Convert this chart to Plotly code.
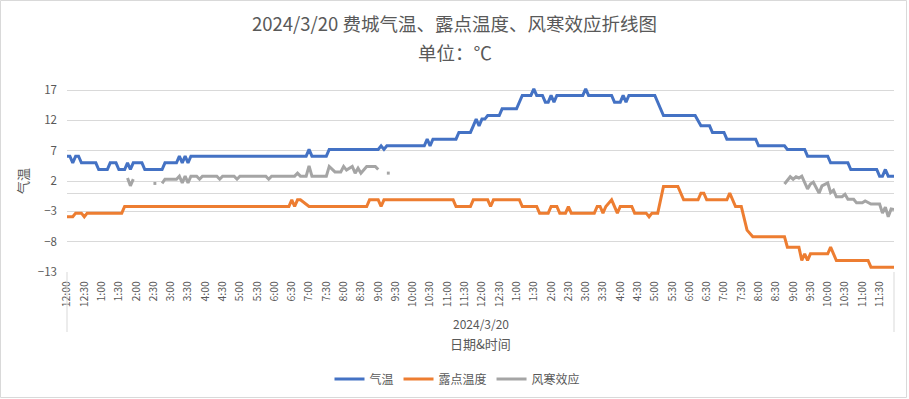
import plotly.graph_objects as go

# ---------------- data (time of day 24h "H:MM", value in °C) ----------------
temp_times = ["0:00","0:05","0:10","0:15","0:20","0:25","0:50","0:55","1:10","1:15","1:25","1:30",
              "1:40","1:45","1:50","1:55","2:10","2:15","2:45","2:50","3:10","3:15","3:20","3:25",
              "3:30","3:35","6:55","7:00","7:05","7:30","7:35","9:00","9:05","9:10","9:15","10:20",
              "10:25","10:30","10:35","11:15","11:20","11:40","11:45","11:50","11:55","12:00","12:05",
              "12:10","12:30","12:35","13:00","13:10","13:25","13:30","13:35","13:45","13:50","13:55",
              "14:00","14:05","14:10","14:55","15:00","15:05","15:45","15:50","16:00","16:05","16:10",
              "16:15","17:00","17:15","18:10","18:20","18:35","18:40","19:00","19:05","19:55","20:00",
              "20:45","20:50","21:20","21:25","22:00","22:05","22:35","22:40","23:25","23:30","23:35",
              "23:40","23:45","23:55"]
temp_vals = [6.1,6.1,5.0,6.1,6.1,5.0,5.0,3.9,3.9,5.0,5.0,3.9,
             3.9,5.0,3.9,5.0,5.0,3.9,3.9,5.0,5.0,6.1,5.0,6.1,
             5.0,6.1,6.1,7.2,6.1,6.1,7.2,7.2,7.8,7.2,7.8,7.8,
             8.9,7.8,8.9,8.9,10.0,10.0,11.1,12.2,11.1,12.2,12.2,
             12.8,12.8,13.9,13.9,16.1,16.1,17.2,16.1,16.1,15.0,15.0,
             16.1,15.0,16.1,16.1,17.2,16.1,16.1,15.0,15.0,16.1,15.0,
             16.1,16.1,12.8,12.8,11.1,11.1,10.0,10.0,8.9,8.9,7.8,
             7.8,7.2,7.2,6.1,6.1,5.0,5.0,3.9,3.9,2.8,2.8,
             3.9,2.8,2.8]

dew_times = ["0:00","0:10","0:15","0:25","0:30","0:35","1:35","1:40","6:25","6:30","6:35","6:40",
             "6:45","7:00","8:40","8:45","9:00","9:05","9:10","11:10","11:15","11:40","11:45","12:10",
             "12:15","12:20","13:05","13:10","13:35","13:40","13:55","14:00","14:10","14:15","14:25",
             "14:30","14:35","15:15","15:20","15:25","15:30","15:35","15:45","15:55","16:00","16:20",
             "16:25","16:45","16:50","16:55","17:05","17:15","17:40","17:50","18:15","18:20","18:25",
             "18:30","19:05","19:10","19:20","19:30","19:40","19:45","19:50","20:45","20:50","21:10",
             "21:15","21:20","21:25","21:30","22:00","22:05","22:15","23:10","23:15","23:55"]
dew_vals = [-3.9,-3.9,-3.3,-3.3,-3.9,-3.3,-3.3,-2.2,-2.2,-1.1,-2.2,-1.1,
            -1.1,-2.2,-2.2,-1.1,-1.1,-2.2,-1.1,-1.1,-2.2,-2.2,-1.1,-1.1,
            -2.2,-1.1,-1.1,-2.2,-2.2,-3.3,-3.3,-2.2,-2.2,-3.3,-3.3,
            -2.2,-3.3,-3.3,-2.2,-2.2,-3.3,-2.2,-1.1,-3.3,-2.2,-2.2,
            -3.3,-3.3,-3.9,-3.3,-3.3,1.1,1.1,-1.1,-1.1,0.0,0.0,
            -1.1,-1.1,0.0,-2.2,-2.2,-6.1,-6.7,-7.2,-7.2,-8.9,-8.9,
            -11.1,-10.0,-11.1,-10.0,-10.0,-8.9,-11.1,-11.1,-12.2,-12.2]

chill_times = ["1:45","1:50","1:55",None,"2:30","2:35",None,"2:45","2:50","3:05","3:10","3:15","3:20",
               "3:25","3:30","3:35","3:45","3:50","3:55","4:20","4:25","4:30","4:50","4:55","5:00",
               "5:45","5:50","5:55","6:35","6:40","6:45","6:55","7:00","7:05","7:30","7:35","7:45",
               "7:55","8:00","8:05","8:15","8:20","8:25","8:30","8:40","8:55","9:00",None,"9:15","9:20",
               None,"20:45","20:55","21:00","21:05","21:10","21:15","21:25","21:30","21:35","21:45",
               "21:50","21:55","22:00","22:05","22:10","22:15","22:25","22:30","22:35","22:45","22:50",
               "23:00","23:05","23:15","23:30","23:35","23:40","23:45","23:50","23:55"]
chill_vals = [2.5,1.2,2.3,None,1.6,1.6,None,1.6,2.3,2.3,2.3,2.8,1.7,
              2.8,1.7,2.8,2.8,2.3,2.8,2.8,2.3,2.8,2.8,2.3,2.8,
              2.8,2.3,2.8,2.8,3.3,2.8,2.8,4.5,2.8,2.8,4.4,3.5,
              3.5,4.4,3.8,4.4,3.3,4.1,3.3,4.4,4.4,3.9,None,3.3,3.3,
              None,1.5,2.7,2.3,2.7,2.5,2.8,0.7,1.5,1.8,0.0,
              1.2,1.5,1.7,0.1,0.5,-0.6,-0.6,-0.2,-1.0,-1.0,-1.6,
              -1.6,-1.3,-1.8,-1.8,-3.3,-2.3,-3.9,-2.6,-2.7]

x_tick_labels = ["12:00","12:30","1:00","1:30","2:00","2:30","3:00","3:30","4:00","4:30","5:00","5:30",
                 "6:00","6:30","7:00","7:30","8:00","8:30","9:00","9:30","10:00","10:30","11:00","11:30",
                 "12:00","12:30","1:00","1:30","2:00","2:30","3:00","3:30","4:00","4:30","5:00","5:30",
                 "6:00","6:30","7:00","7:30","8:00","8:30","9:00","9:30","10:00","10:30","11:00","11:30"]
y_ticks = [-13, -8, -3, 2, 7, 12, 17]
date_label = "2024/3/20"
series_names = ["气温", "露点温度", "风寒效应"]
series_colors = ["#4472C4", "#ED7D31", "#A5A5A5"]


def to_min(t):
    if t is None:
        return None
    h, m = t.split(":")
    return int(h) * 60 + int(m)


FONT = "Noto Sans CJK SC"
GREY = "#595959"
W, H = 909, 399
L, R, T, B = 67, 15, 88, 127
PW, PH = W - L - R, H - T - B


def px(x):
    return (x - L) / PW


def py(y):
    return (H - B - y) / PH


fig = go.Figure()
for name, color, times, vals in [
    (series_names[0], series_colors[0], temp_times, temp_vals),
    (series_names[1], series_colors[1], dew_times, dew_vals),
    (series_names[2], series_colors[2], chill_times, chill_vals),
]:
    fig.add_trace(go.Scatter(
        x=[to_min(t) for t in times], y=vals, name=name, mode="lines",
        line=dict(color=color, width=3), connectgaps=False, cliponaxis=False,
    ))

fig.update_layout(
    template="none",
    width=W, height=H,
    margin=dict(l=L, r=R, t=T, b=B, autoexpand=False),
    paper_bgcolor="white", plot_bgcolor="white",
    font=dict(family=FONT, color=GREY, size=12),
    showlegend=True,
    legend=dict(orientation="h", x=px(457.5), xanchor="center", y=py(379), yanchor="middle",
                font=dict(size=12, color=GREY), itemwidth=30, bgcolor="rgba(0,0,0,0)"),
    xaxis=dict(range=[0, 1435], tickmode="array", automargin=False,
               tickvals=[i * 30 for i in range(len(x_tick_labels))], ticktext=x_tick_labels,
               tickangle=-90, tickfont=dict(size=10.5, color=GREY), showgrid=False,
               zeroline=False, showline=False, ticks="", ticklabelstandoff=6),
    yaxis=dict(range=[-13, 17.33], tickmode="array", tickvals=y_ticks, automargin=False,
               tickfont=dict(size=11.5, color=GREY), showgrid=True, gridcolor="#d9d9d9",
               gridwidth=1, zeroline=True, zerolinecolor="#d9d9d9", zerolinewidth=1,
               showline=False, ticks="", ticklabelstandoff=9),
)

anns = [
    dict(text="2024/3/20 费城气温、露点温度、风寒效应折线图", x=px(454.5), y=py(23), size=18.5),
    dict(text="单位：℃", x=px(454.5), y=py(52), size=18.5),
    dict(text=date_label, x=0.5, y=py(323), size=12),
    dict(text="日期&时间", x=0.5, y=py(343), size=13),
]
for a in anns:
    fig.add_annotation(text=a["text"], x=a["x"], y=a["y"], xref="paper", yref="paper",
                       xanchor="center", yanchor="middle", showarrow=False,
                       font=dict(size=a["size"], color=GREY, family=FONT))
fig.add_annotation(text="气温", x=px(22), y=py(181), xref="paper", yref="paper",
                   xanchor="center", yanchor="middle", showarrow=False, textangle=-90,
                   font=dict(size=13, color=GREY, family=FONT))

line_style = dict(color="#d9d9d9", width=1)
fig.add_shape(type="line", xref="paper", yref="paper", x0=0, x1=0, y0=0, y1=py(332), line=line_style)
fig.add_shape(type="line", xref="paper", yref="paper", x0=1, x1=1, y0=0, y1=py(332), line=line_style)
fig.add_shape(type="rect", xref="paper", yref="paper", x0=px(0.5), x1=px(906.5),
              y0=py(397.5), y1=py(0.5), line=line_style, layer="below")

fig.write_html("out.html", config={"displayModeBar": False},
               post_script="document.body.style.margin='0px';document.body.style.overflow='hidden';")
